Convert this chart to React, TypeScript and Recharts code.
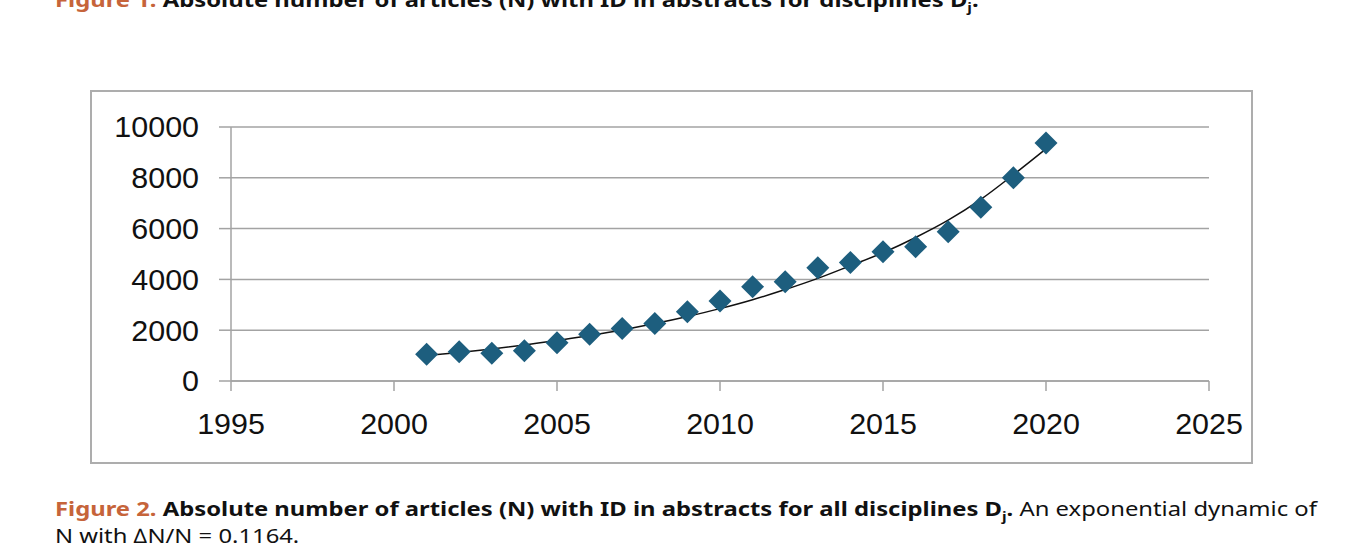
import { ComposedChart, Scatter, Line, XAxis, YAxis, CartesianGrid } from 'recharts';

const years = [2001, 2002, 2003, 2004, 2005, 2006, 2007, 2008, 2009, 2010, 2011, 2012, 2013, 2014, 2015, 2016, 2017, 2018, 2019, 2020];
const articles = [1050, 1150, 1090, 1190, 1510, 1840, 2070, 2260, 2730, 3150, 3710, 3910, 4460, 4670, 5090, 5290, 5880, 6840, 8000, 9370];
// exponential trend line
const trend = [1000, 1120, 1260, 1420, 1590, 1790, 2010, 2260, 2540, 2850, 3200, 3600, 4040, 4540, 5050, 5650, 6330, 7150, 8120, 9140];
const xTicks = [1995, 2000, 2005, 2010, 2015, 2020, 2025];
const yTicks = [0, 2000, 4000, 6000, 8000, 10000];

const data = years.map((year, i) => ({ year, n: articles[i], trend: trend[i] }));

const MARKER = '#1d5e7e';
const GRID = '#a3a3a3';
const AXIS_FONT = '"Liberation Sans", Arial, sans-serif';
const CAPTION_FONT = '"Noto Sans", "Open Sans", sans-serif';
const ORANGE = '#c6643a';

function Diamond(props: any) {
  const { cx, cy } = props;
  if (cx == null || cy == null) return null;
  const r = 11.5;
  return <polygon points={`${cx},${cy - r} ${cx + r},${cy} ${cx},${cy + r} ${cx - r},${cy}`} fill={MARKER} />;
}

function YTick(props: any) {
  const { x, y, payload } = props;
  return (
    <text
      transform={`translate(${x},${y}) scale(1.05,1)`}
      textAnchor="end"
      dy="0.355em"
      fontFamily={AXIS_FONT}
      fontSize={29}
      fill="#111"
    >
      {payload.value}
    </text>
  );
}

function XTick(props: any) {
  const { x, y, payload } = props;
  return (
    <text
      transform={`translate(${x},${y}) scale(1.05,1)`}
      textAnchor="middle"
      dy="0.71em"
      fontFamily={AXIS_FONT}
      fontSize={29}
      fill="#111"
    >
      {payload.value}
    </text>
  );
}

const captionStyle: React.CSSProperties = {
  position: 'absolute',
  left: 55,
  fontFamily: CAPTION_FONT,
  fontSize: 20,
  lineHeight: '27px',
  color: '#111',
  whiteSpace: 'nowrap',
  transform: 'scaleX(1.19)',
  transformOrigin: '0 0',
};

// subscript that does not push the line box
const Sub = ({ children }: { children: string }) => (
  <span style={{ fontSize: 13, position: 'relative', top: 5, lineHeight: 0 }}>{children}</span>
);

export default function App() {
  return (
    <div style={{ position: 'absolute', left: 0, top: 0, width: 1372, height: 555, overflow: 'hidden', background: '#fff' }}>
      {/* previous figure caption, cut off at the top */}
      <div style={{ ...captionStyle, top: -14 }}>
        <b style={{ color: ORANGE }}>Figure 1.</b>{' '}
        <b>Absolute number of articles (N) with ID in abstracts for disciplines D<Sub>j</Sub>.</b>
      </div>

      <div
        style={{
          position: 'absolute',
          left: 90,
          top: 90,
          width: 1163,
          height: 374,
          boxSizing: 'border-box',
          border: '2px solid #adadad',
        }}
      />
      <div style={{ position: 'absolute', left: 90, top: 90 }}>
        <ComposedChart width={1163} height={374} data={data} margin={{ top: 37, right: 44, left: 31, bottom: 23 }}>
          <CartesianGrid vertical={false} stroke={GRID} strokeWidth={1.5} />
          <XAxis
            dataKey="year"
            type="number"
            domain={[1995, 2025]}
            ticks={xTicks}
            height={60}
            stroke={GRID}
            strokeWidth={1.5}
            tickSize={10}
            tickMargin={22}
            tick={<XTick />}
            interval={0}
          />
          <YAxis
            type="number"
            domain={[0, 10000]}
            ticks={yTicks}
            width={110}
            stroke={GRID}
            strokeWidth={1.5}
            tickSize={12}
            tickMargin={20}
            tick={<YTick />}
            interval={0}
          />
          <Line dataKey="trend" type="monotone" stroke="#111" strokeWidth={1.5} dot={false} isAnimationActive={false} />
          <Scatter dataKey="n" shape={<Diamond />} isAnimationActive={false} />
        </ComposedChart>
      </div>

      <div style={{ ...captionStyle, top: 495 }}>
        <b style={{ color: ORANGE }}>Figure 2.</b>{' '}
        <b>
          Absolute number of articles (N) with ID in abstracts for all disciplines D<Sub>j</Sub>.
        </b>{' '}
        An exponential dynamic of
        <br />N with ∆N/N = 0.1164.
      </div>
    </div>
  );
}
